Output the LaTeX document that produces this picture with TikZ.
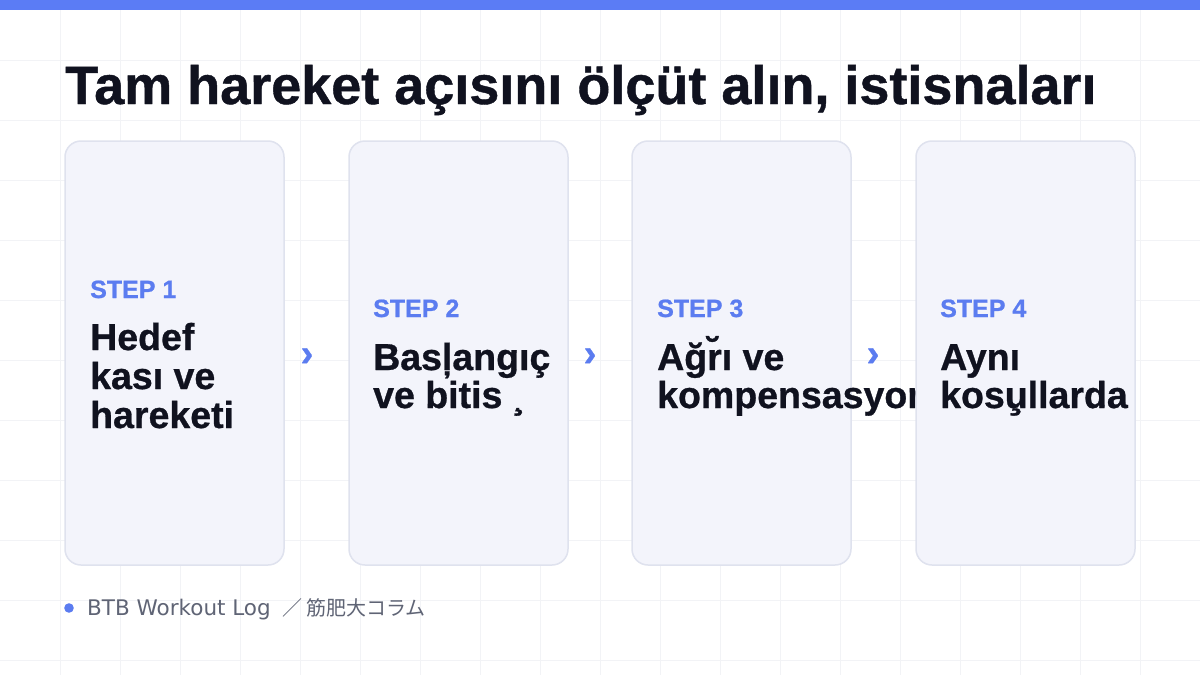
\documentclass[tikz,border=0pt]{standalone}
\usepackage{fontspec}
\setmainfont{Liberation Sans}[BoldFeatures={FakeBold=0.8}]
\newfontfamily\footfont{DejaVu Sans}
\newfontfamily\cjk{Noto Sans CJK JP}
\definecolor{topbar}{HTML}{5B7CF5}
\definecolor{gridc}{HTML}{F2F3F6}
\definecolor{ink}{HTML}{10121F}
\definecolor{stepc}{HTML}{5B7CF0}
\definecolor{cardfill}{HTML}{F3F4FB}
\definecolor{cardline}{HTML}{DFE2EE}
\definecolor{footc}{HTML}{5F6475}
\tikzset{
  card/.style={draw=cardline, fill=cardfill, line width=1.5pt, rounded corners=16pt},
  steplabel/.style={anchor=base west, inner sep=0pt, text=stepc, font=\fontsize{25}{30}\selectfont\bfseries},
  bodyline/.style={anchor=base west, inner sep=0pt, text=ink, font=\fontsize{37.5}{39}\selectfont\bfseries},
  chev/.style={inner sep=0pt, text=stepc, font=\fontsize{38}{38}\selectfont\bfseries},
}
\begin{document}
\begin{tikzpicture}[x=1pt,y=-1pt]
\useasboundingbox (0,0) rectangle (1200,675);
\fill[white] (0,0) rectangle (1200,675);
\foreach \gx in {60,120,...,1140} \draw[gridc, line width=1pt] (\gx,0) -- (\gx,675);
\foreach \gy in {60,120,...,660} \draw[gridc, line width=1pt] (0,\gy) -- (1200,\gy);
\fill[topbar] (0,0) rectangle (1200,10);
\node[anchor=base west, inner sep=0pt, text=ink, font=\fontsize{54}{60}\selectfont\bfseries] (title) at (65,104) {Tam hareket açısını ölçüt alın, istisnaları};
% card 1
\draw[card] (65,141) rectangle (284,565);
\node[steplabel] (s1) at (90,298) {STEP 1};
\node[bodyline] (b1a) at (90,350) {Hedef};
\node[bodyline] (b1b) at (90,389) {kası ve};
\node[bodyline] (b1c) at (90,428) {hareketi};
% card 2
\draw[card] (349,141) rectangle (568,565);
\node[steplabel] (s2) at (373,317) {STEP 2};
\node[bodyline] (b2a) at (373,370) {Basļangıç};
\node[bodyline] (b2b) at (373,408) {ve bitis ¸};
% card 3
\draw[card] (632,141) rectangle (851,565);
\node[steplabel] (s3) at (657,317) {STEP 3};
\node[bodyline] (b3a) at (657,370) {Ağr̆ı ve};
\node[bodyline] (b3b) at (657,408) {kompensasyon};
% card 4
\draw[card] (916,141) rectangle (1135,565);
\node[steplabel] (s4) at (940,317) {STEP 4};
\node[bodyline] (b4a) at (940,370) {Aynı};
\node[bodyline] (b4b) at (940,408) {kosu̧llarda};
% chevrons
\node[chev] (c1) at (307,357) {›};
\node[chev] (c2) at (590,357) {›};
\node[chev] (c3) at (873,357) {›};
% footer
\fill[stepc] (69,608) circle (4.8);
\node[anchor=base west, inner sep=0pt, text=footc, font=\footfont\fontsize{21.5}{24}\selectfont] (foot) at (87,615) {BTB Workout Log {\cjk\fontsize{20}{24}\selectfont\ ／ 筋肥大コラム}};
\end{tikzpicture}
\end{document}
